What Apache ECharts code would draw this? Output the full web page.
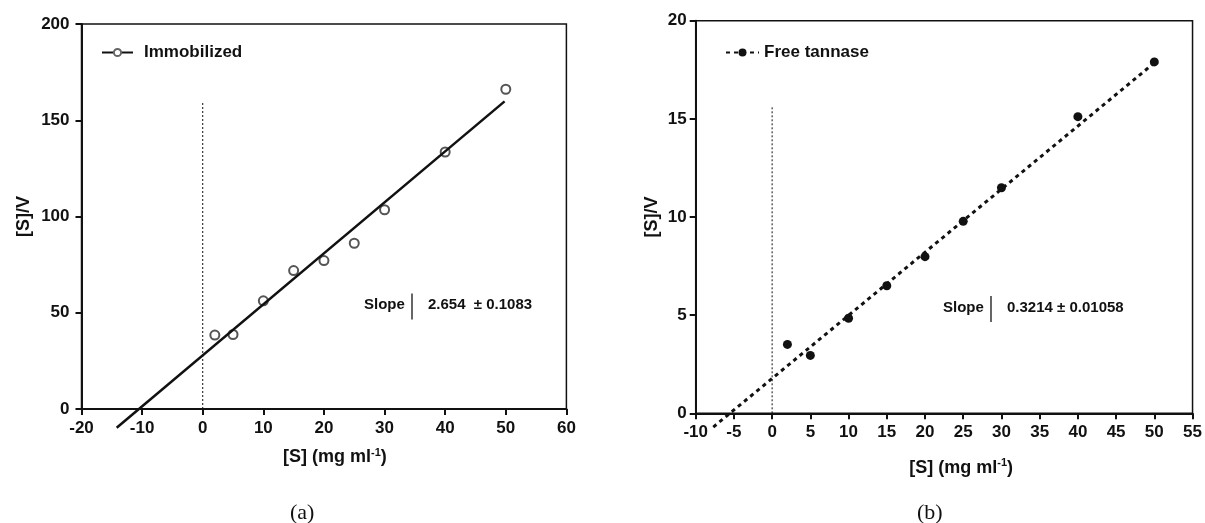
<!DOCTYPE html>
<html>
<head>
<meta charset="utf-8">
<script src="https://cdn.jsdelivr.net/npm/echarts@6/dist/echarts.min.js"></script>
<style>
  html, body { margin: 0; padding: 0; background: #fff; }
  #chart { width: 1205px; height: 523px; }
</style>
</head>
<body>
<div id="chart"></div>
<script>
// substrate concentration [S] (mg/ml)
const sValues = [2, 5, 10, 15, 20, 25, 30, 40, 50]
// [S]/V, immobilized enzyme (panel a)
const immValues = [38.4, 38.7, 56.2, 71.9, 77.1, 86.1, 103.5, 133.5, 166.1]
// [S]/V, free tannase (panel b)
const freeValues = [3.51, 2.95, 4.84, 6.50, 7.98, 9.78, 11.49, 15.11, 17.9]
// regression line end points
const immFitX = [-14.2, 49.8]
const immFitY = [-9.7, 159.8]
const freeFitX = [-7.7, 50]
const freeFitY = [-0.7, 17.85]
// dotted marker at [S] = 0
const immZeroY = [0, 159]
const freeZeroY = [0, 15.6]
const immSlope = '2.654  \u00b1 0.1083'
const freeSlope = '0.3214 \u00b1 0.01058'

const font = "'Liberation Sans', Arial, sans-serif"
const ink = '#111'

const pairs = (xs, ys) => xs.map((x, i) => [x, ys[i]])

function axisBase() {
  return {
    type: 'value',
    nameLocation: 'middle',
    axisLine: {onZero: false, lineStyle: {color: ink, width: 2}},
    axisTick: {length: 6, lineStyle: {color: ink, width: 2}},
    splitLine: {show: false},
    axisLabel: {fontSize: 17, fontWeight: 'bold', color: ink, fontFamily: font},
    nameTextStyle: {
      fontSize: 18, fontWeight: 'bold', color: ink, fontFamily: font,
      rich: {sup: {fontSize: 11, fontWeight: 'bold', color: ink, fontFamily: font, verticalAlign: 'top', padding: [0, 0, 10, 0]}}
    }
  }
}

function xAxis(idx, min, max, step, gap, shift) {
  const a = axisBase()
  return Object.assign(a, {
    gridIndex: idx, min: min, max: max, interval: step,
    name: '[S] (mg ml{sup|-1})', nameGap: gap,
    axisLabel: Object.assign(a.axisLabel, {margin: 11}),
    nameTextStyle: Object.assign(a.nameTextStyle, {padding: [0, 0, 0, shift]})
  })
}

function yAxis(idx, max, step, gap, margin) {
  const a = axisBase()
  return Object.assign(a, {
    gridIndex: idx, min: 0, max: max, interval: step,
    name: '[S]/V', nameGap: gap,
    axisLabel: Object.assign(a.axisLabel, {margin: margin})
  })
}

function slopeNote(xEnd, yMid, value) {
  return [
    {type: 'text', left: xEnd - 40, top: yMid - 9,
      style: {text: 'Slope', font: 'bold 15px ' + font, fill: ink}},
    {type: 'line', shape: {x1: xEnd + 8, y1: yMid - 13, x2: xEnd + 8, y2: yMid + 13},
      style: {stroke: '#333', lineWidth: 1.5}},
    {type: 'text', left: xEnd + 24, top: yMid - 9,
      style: {text: value, font: 'bold 15px ' + font, fill: ink}}
  ]
}

const chart = echarts.init(document.getElementById('chart'))
const option = {
  animation: false,
  backgroundColor: '#fff',
  grid: [
    {left: 81.5, right: 638.6, top: 24, bottom: 114, show: true, borderColor: ink, borderWidth: 1.5},
    {left: 695.7, right: 12, top: 20.7, bottom: 109.7, show: true, borderColor: ink, borderWidth: 1.5}
  ],
  xAxis: [
    xAxis(0, -20, 60, 10, 38, 22),
    xAxis(1, -10, 55, 5, 44, 34)
  ],
  yAxis: [
    yAxis(0, 200, 50, 48, 12),
    yAxis(1, 20, 5, 35, 9)
  ],
  legend: [
    {data: ['Immobilized'], left: 101, top: 44, padding: 0, itemWidth: 31, itemHeight: 9, itemGap: 0,
      textStyle: {fontSize: 17, fontWeight: 'bold', color: ink, fontFamily: font, padding: [0, 0, 0, 6]}},
    {data: ['Free tannase'], left: 725, top: 44, padding: 0, itemWidth: 33, itemHeight: 10, itemGap: 0,
      textStyle: {fontSize: 17, fontWeight: 'bold', color: ink, fontFamily: font}}
  ],
  series: [
    {
      name: 'Immobilized', type: 'line', xAxisIndex: 0, yAxisIndex: 0,
      data: pairs(immFitX, immFitY), clip: false,
      symbol: 'emptyCircle', symbolSize: 6, showSymbol: false,
      itemStyle: {color: '#666'},
      lineStyle: {color: ink, width: 2.5}
    },
    {
      name: 'imm data', type: 'scatter', xAxisIndex: 0, yAxisIndex: 0,
      data: pairs(sValues, immValues), symbol: 'emptyCircle', symbolSize: 9,
      itemStyle: {color: '#555', borderColor: '#555', borderWidth: 1.3, opacity: 1}
    },
    {
      name: 'imm zero', type: 'line', xAxisIndex: 0, yAxisIndex: 0,
      data: pairs([0, 0], immZeroY), symbol: 'none',
      lineStyle: {color: ink, width: 1, type: [2, 2]}
    },
    {
      name: 'Free tannase', type: 'line', xAxisIndex: 1, yAxisIndex: 1,
      data: pairs(freeFitX, freeFitY), clip: false,
      symbol: 'circle', symbolSize: 8, showSymbol: false,
      itemStyle: {color: ink},
      lineStyle: {color: ink, width: 3, type: [4, 4]}
    },
    {
      name: 'free data', type: 'scatter', xAxisIndex: 1, yAxisIndex: 1,
      data: pairs(sValues, freeValues), symbol: 'circle', symbolSize: 9,
      itemStyle: {color: ink, opacity: 1}
    },
    {
      name: 'free zero', type: 'line', xAxisIndex: 1, yAxisIndex: 1,
      data: pairs([0, 0], freeZeroY), symbol: 'none',
      lineStyle: {color: ink, width: 1, type: [2, 2]}
    }
  ],
  graphic: [
    ...slopeNote(404, 306.5, immSlope),
    ...slopeNote(983, 309, freeSlope),
    {type: 'text', left: 290, top: 502,
      style: {text: '(a)', font: '22px "Liberation Serif", "Times New Roman", serif', fill: ink}},
    {type: 'text', left: 917, top: 502,
      style: {text: '(b)', font: '22px "Liberation Serif", "Times New Roman", serif', fill: ink}}
  ]
}
chart.setOption(option)
window.addEventListener('resize', function () {
  if (chart) chart.resize()
})
</script>
</body>
</html>
